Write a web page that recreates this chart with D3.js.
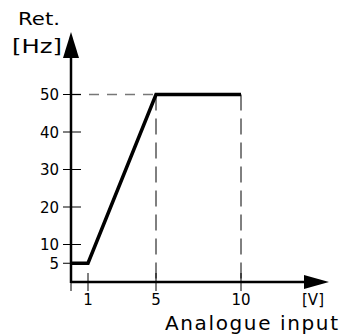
<!DOCTYPE html>
<html><head><meta charset="utf-8">
<script src="https://cdn.jsdelivr.net/npm/d3@7"></script>
<style>body{margin:0;background:#fff}svg{display:block}text{font-family:"DejaVu Sans",sans-serif;fill:#000}</style>
</head><body>
<script>
const xTicks = [1, 5, 10];
const yTicks = [5, 10, 20, 30, 40, 50];
const curveX = [0, 1, 5, 10];
const curveY = [5, 5, 50, 50];
const refX = [5, 10];
const refY = 50;

const W = 342, H = 336;
const svg = d3.select("body").append("svg").attr("width", W).attr("height", H);
const x = d3.scaleLinear().domain([0, 10]).range([71, 241]);
const y = d3.scaleLinear().domain([0, 50]).range([282, 94.5]);

function stretched(txt, x0, yb, size, width) {
  const t = svg.append("text").attr("font-size", size).text(txt);
  const w = t.node().getComputedTextLength();
  t.attr("transform", `translate(${x0},${yb}) scale(${width / w},1)`);
  return t;
}

// dashed reference lines
svg.append("line").attr("x1", x(0)).attr("x2", x(5)).attr("y1", y(refY)).attr("y2", y(refY))
  .attr("stroke", "#777").attr("stroke-width", 1.5).attr("stroke-dasharray", "10,8");
refX.forEach(v => {
  svg.append("line").attr("x1", x(v)).attr("x2", x(v)).attr("y1", y(refY)).attr("y2", y(0))
    .attr("stroke", "#000").attr("stroke-width", 1).attr("stroke-dasharray", "16,8");
});

// axes
svg.append("line").attr("x1", x(0)).attr("x2", 308).attr("y1", y(0)).attr("y2", y(0)).attr("stroke", "#000").attr("stroke-width", 2.5);
svg.append("line").attr("x1", x(0)).attr("x2", x(0)).attr("y1", y(0) + 1).attr("y2", 55).attr("stroke", "#000").attr("stroke-width", 2.5);
svg.append("path").attr("d", `M${x(0)},32 L${x(0) + 8},58 L${x(0) - 8},58 Z`).attr("fill", "#000");
svg.append("path").attr("d", `M329,${y(0)} L304,${y(0) - 7} L304,${y(0) + 7} Z`).attr("fill", "#000");

// x ticks
svg.append("line").attr("x1", x(0)).attr("x2", x(0)).attr("y1", y(0)).attr("y2", y(0) + 9).attr("stroke", "#000").attr("stroke-width", 1);
xTicks.forEach(v => {
  svg.append("line").attr("x1", x(v)).attr("x2", x(v)).attr("y1", y(0) - 9).attr("y2", y(0) + 9).attr("stroke", "#000").attr("stroke-width", 1);
  svg.append("text").attr("x", x(v)).attr("y", 305).attr("text-anchor", "middle").attr("font-size", 15).text(v);
});
svg.append("text").attr("x", 313).attr("y", 305).attr("text-anchor", "middle").attr("font-size", 15).text("[V]");
svg.append("text").attr("x", 165).attr("y", 330).attr("font-size", 20)
  .attr("textLength", 173).attr("lengthAdjust", "spacing").text("Analogue input");

// y ticks
yTicks.forEach(v => {
  svg.append("line").attr("x1", x(0) - 8).attr("x2", x(0) + 10).attr("y1", y(v)).attr("y2", y(v)).attr("stroke", "#000").attr("stroke-width", 1);
  svg.append("text").attr("x", 59).attr("y", y(v) + 5.5).attr("text-anchor", "end").attr("font-size", 15).text(v);
});
stretched("Ret.", 18, 25, 17, 42);
stretched("[Hz]", 12, 53, 20, 50);

// curve
const line = d3.line().x(d => x(d[0])).y(d => y(d[1]));
svg.append("path").datum(curveX.map((v, i) => [v, curveY[i]])).attr("d", line)
  .attr("fill", "none").attr("stroke", "#000").attr("stroke-width", 3.5).attr("stroke-linejoin", "miter");
</script>
</body></html>
